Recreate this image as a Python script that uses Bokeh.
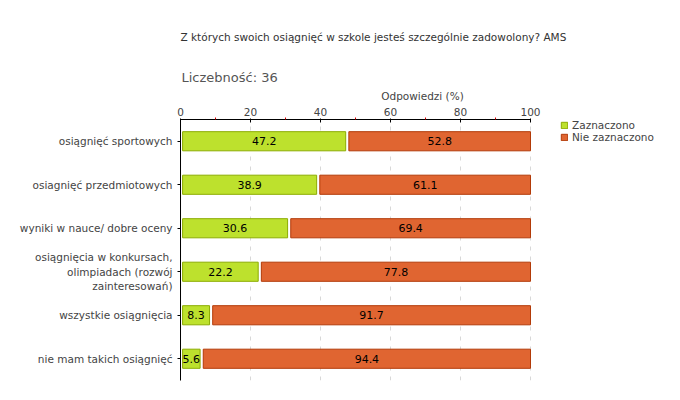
from bokeh.plotting import figure
from bokeh.models import (ColumnDataSource, FactorRange, Range1d, FixedTicker, Title,
                          Legend, LegendItem)
from bokeh.core.properties import value
from bokeh.embed import file_html
from bokeh.resources import INLINE

categories = [
    "osiągnięć sportowych",
    "osiagnięć przedmiotowych",
    "wyniki w nauce/ dobre oceny",
    "osiągnięcia w konkursach,\nolimpiadach (rozwój\nzainteresowań)",
    "wszystkie osiągnięcia",
    "nie mam takich osiągnięć",
]
zaznaczono = [47.2, 38.9, 30.6, 22.2, 8.3, 5.6]
nie_zaznaczono = [52.8, 61.1, 69.4, 77.8, 91.7, 94.4]
x_ticks = [0, 20, 40, 60, 80, 100]
x_minor_ticks = [10, 30, 50, 70, 90]

title_text = "Z których swoich osiągnięć w szkole jesteś szczególnie zadowolony? AMS"
count_text = "Liczebność: 36"

FONT = "DejaVu Sans"
GREEN, GREEN_LINE = "#bde12d", "#8cac00"
ORANGE, ORANGE_LINE = "#e06531", "#b23a08"
PAD = 0.6   # visual inset of the first segment
GAP = 0.9   # visual gap between segments
X_END = 100 + 134 / 3.5   # frame extends right so the legend sits inside it

g_left = [PAD for _ in zaznaczono]
g_right = list(zaznaczono)
o_left = [z + GAP for z in zaznaczono]
o_right = [z + n for z, n in zip(zaznaczono, nie_zaznaczono)]

src = ColumnDataSource(dict(
    cat=categories, zl=g_left, zr=g_right, ol=o_left, orr=o_right,
    zmid=[(a + b) / 2 for a, b in zip(g_left, g_right)],
    omid=[(a + b) / 2 for a, b in zip(o_left, o_right)],
    ztxt=[f"{v:.1f}" for v in zaznaczono],
    otxt=[f"{v:.1f}" for v in nie_zaznaczono],
))

p = figure(width=664, height=384, output_backend="svg", toolbar_location=None,
           x_range=Range1d(0, X_END), y_range=FactorRange(*reversed(categories)),
           x_axis_location="above",
           min_border_left=180, min_border_right=0, min_border_top=119,
           min_border_bottom=4)
p.title_location = None
p.outline_line_color = None
p.background_fill_color = "white"
p.border_fill_color = "white"

g = p.hbar(y="cat", left="zl", right="zr", height=0.44, source=src,
           fill_color=GREEN, line_color=GREEN_LINE, line_width=1)
o = p.hbar(y="cat", left="ol", right="orr", height=0.44, source=src,
           fill_color=ORANGE, line_color=ORANGE_LINE, line_width=1)

p.text(x="zmid", y="cat", text="ztxt", source=src, text_align="center",
       text_baseline="middle", text_font=value(FONT), text_font_size="11px",
       text_color="black")
p.text(x="omid", y="cat", text="otxt", source=src, text_align="center",
       text_baseline="middle", text_font=value(FONT), text_font_size="11px",
       text_color="black")

xa = p.xaxis[0]
xa.ticker = FixedTicker(ticks=x_ticks, minor_ticks=x_minor_ticks)
xa.bounds = (0, 100)
xa.axis_label = "Odpowiedzi (%)"
xa.axis_label_text_font = FONT
xa.axis_label_text_font_style = "normal"
xa.axis_label_text_font_size = "10.5px"
xa.axis_label_text_color = "#444444"
xa.axis_label_standoff = 3
xa.major_label_text_font = FONT
xa.major_label_text_font_size = "10.5px"
xa.major_label_text_color = "#444444"
xa.major_label_standoff = 2
xa.axis_line_color = "black"
xa.major_tick_line_color = "black"
xa.major_tick_in = 3
xa.major_tick_out = 1
xa.minor_tick_line_color = "#dd0000"
xa.minor_tick_in = 0
xa.minor_tick_out = 2

ya = p.yaxis[0]
ya.axis_line_color = "black"
ya.major_tick_line_color = "black"
ya.major_tick_in = 0
ya.major_tick_out = 3
ya.major_label_text_font = FONT
ya.major_label_text_font_size = "10.5px"
ya.major_label_text_color = "#444444"
ya.major_label_standoff = 5

p.ygrid.grid_line_color = None
p.xgrid.ticker = FixedTicker(ticks=x_ticks)
p.xgrid.grid_line_color = "#d8d8d8"
p.xgrid.grid_line_dash = "4 6"

count_title = Title(text=count_text, align="left", offset=1, standoff=4,
                    text_font=FONT, text_font_size="13px", text_color="#555555",
                    text_font_style="normal")
p.add_layout(count_title, "above")

main_title = Title(text=title_text, align="left", offset=0, standoff=45,
                   text_font=FONT, text_font_size="10.5px", text_color="#333333",
                   text_font_style="normal")
p.add_layout(main_title, "above")

legend = Legend(items=[LegendItem(label="Zaznaczono", renderers=[g]),
                       LegendItem(label="Nie zaznaczono", renderers=[o])],
                location=(380, 237), orientation="vertical",
                padding=0, margin=0, spacing=0, border_line_color=None,
                background_fill_alpha=0, glyph_width=8, glyph_height=8,
                label_height=12, label_standoff=4, label_text_font=FONT,
                label_text_font_size="10.5px", label_text_color="#444444")
p.add_layout(legend)

open("out.html", "w").write(file_html(p, INLINE))
